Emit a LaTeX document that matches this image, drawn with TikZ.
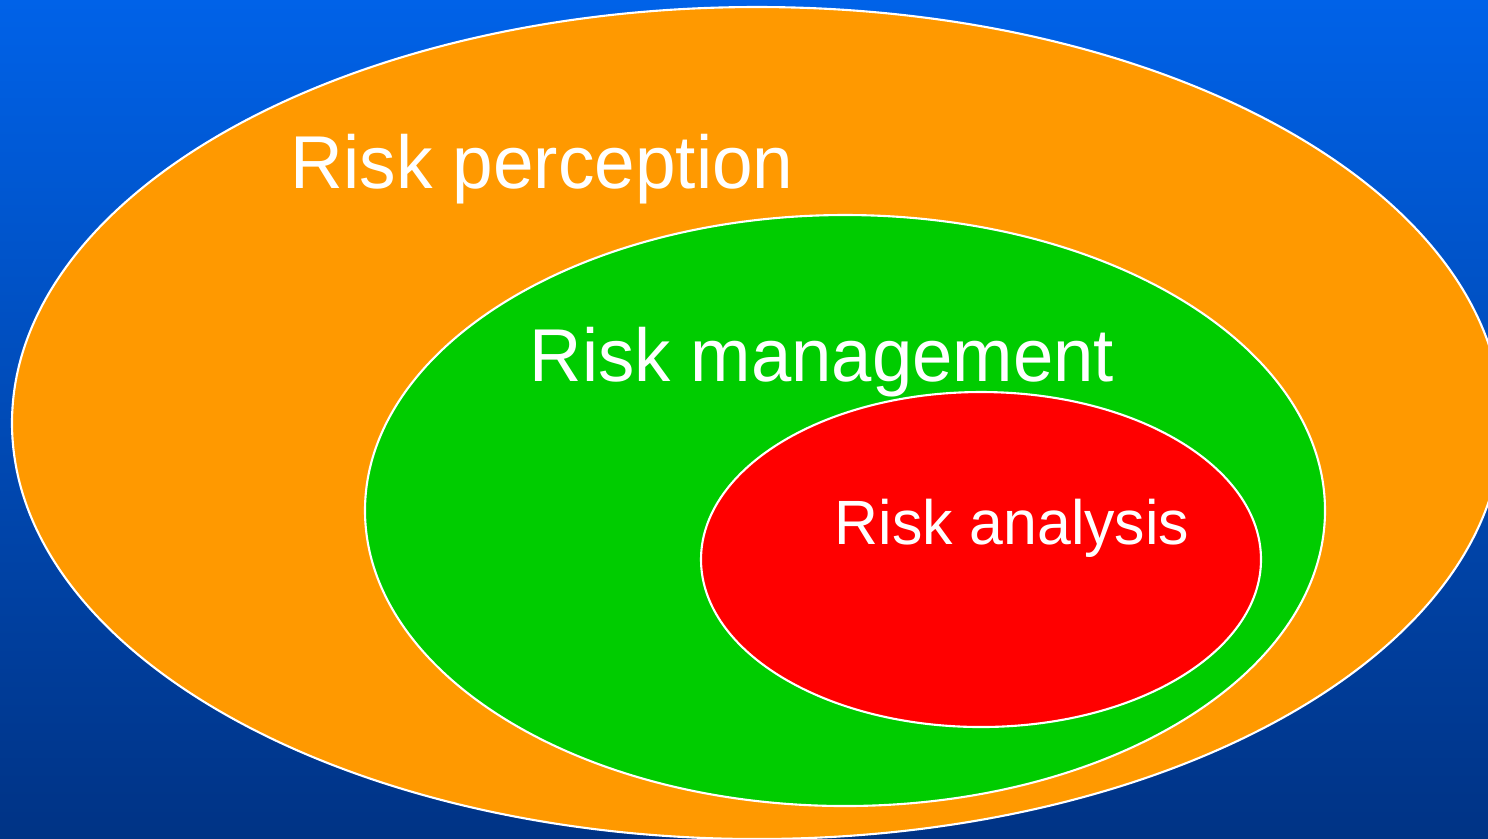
\documentclass[tikz,border=0pt]{standalone}
\usepackage{fontspec}
\setmainfont{Liberation Sans}
\definecolor{bgtop}{RGB}{0,98,232}
\definecolor{bgbot}{RGB}{0,51,133}
\definecolor{orng}{RGB}{255,153,0}
\definecolor{grn}{RGB}{0,204,0}
\definecolor{rd}{RGB}{255,0,0}
\begin{document}
\begin{tikzpicture}[x=0.01cm,y=-0.01cm,
  blob/.style={draw=white,line width=0.6pt},
  lbl/.style={text=white,inner sep=0pt,anchor=base west}]
\useasboundingbox (0,0) rectangle (1488,838);
\clip (0,0) rectangle (1488,838);
\shade[top color=bgtop,bottom color=bgbot] (0,0) rectangle (1488,838);
\draw[blob,fill=orng] (757,423) ellipse [x radius=745, y radius=416];
\draw[blob,fill=grn] (845,510.5) ellipse [x radius=480, y radius=295.5];
\draw[blob,fill=rd] (981,559.5) ellipse [x radius=280, y radius=167.5];
\node[lbl,font=\fontsize{21.3pt}{25pt}\selectfont] (perc) at (290,188) {\scalebox{0.974}[1]{Risk perception}};
\node[lbl,font=\fontsize{21.3pt}{25pt}\selectfont] (mgmt) at (529,381) {\scalebox{0.968}[1]{Risk management}};
\node[lbl,font=\fontsize{17.8pt}{21pt}\selectfont] (anal) at (834,544) {\scalebox{0.971}[1]{Risk analysis}};
\end{tikzpicture}
\end{document}
